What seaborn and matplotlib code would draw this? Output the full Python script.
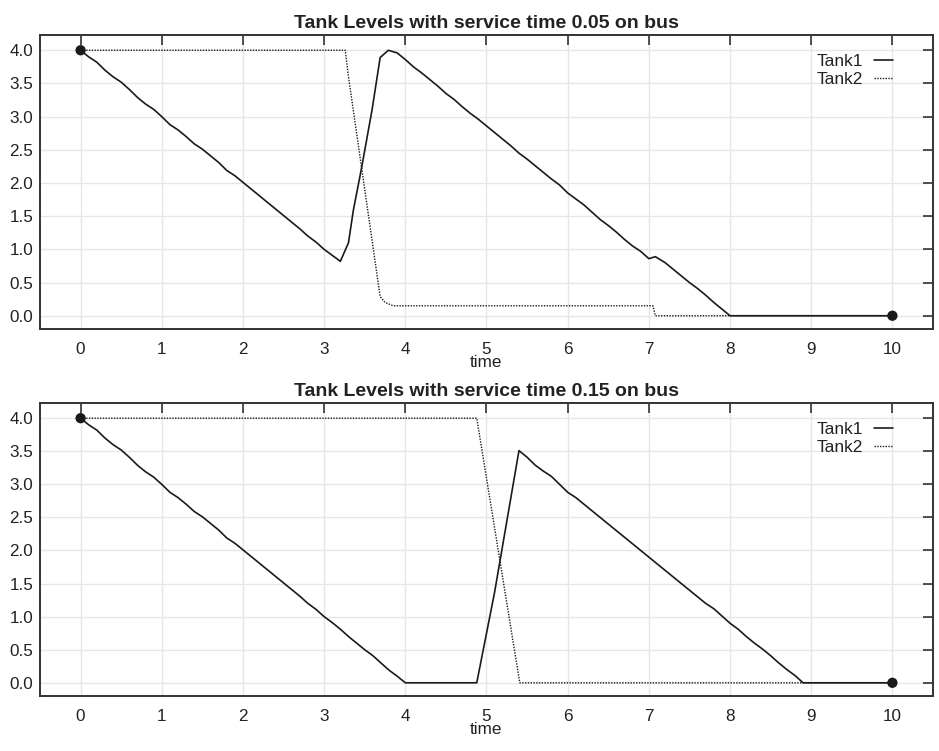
import numpy as np
import pandas as pd
import matplotlib
matplotlib.use("Agg")
import matplotlib.pyplot as plt
import seaborn as sns

# ---------------- data ----------------
# service time 0.05
t1_a = [0.0, 0.1, 0.2, 0.3, 0.4, 0.5, 0.6, 0.7, 0.8, 0.9,
        1.0, 1.1, 1.2, 1.3, 1.4, 1.5, 1.6, 1.7, 1.8, 1.9,
        2.0, 2.1, 2.2, 2.3, 2.4, 2.5, 2.6, 2.7, 2.8, 2.9,
        3.0, 3.1, 3.2, 3.3, 3.36, 3.46, 3.59, 3.69, 3.79, 3.9,
        4.0, 4.1, 4.2, 4.3, 4.4, 4.5, 4.6, 4.7, 4.8, 4.9,
        5.0, 5.1, 5.2, 5.3, 5.4, 5.5, 5.6, 5.7, 5.8, 5.9,
        6.0, 6.1, 6.2, 6.3, 6.4, 6.5, 6.6, 6.7, 6.8, 6.9,
        7.0, 7.08, 7.2, 7.3, 7.4, 7.5, 7.6, 7.7, 7.8, 7.9,
        8.0, 10.0]
tank1_a = [4.00, 3.90, 3.82, 3.70, 3.60, 3.52, 3.41, 3.29, 3.19, 3.11,
           3.00, 2.88, 2.80, 2.70, 2.59, 2.51, 2.41, 2.31, 2.19, 2.11,
           2.01, 1.91, 1.81, 1.71, 1.61, 1.51, 1.41, 1.31, 1.20, 1.11,
           1.00, 0.91, 0.82, 1.10, 1.59, 2.22, 3.10, 3.89, 4.00, 3.96,
           3.86, 3.75, 3.66, 3.56, 3.46, 3.35, 3.26, 3.15, 3.05, 2.96,
           2.86, 2.76, 2.66, 2.56, 2.45, 2.36, 2.26, 2.16, 2.06, 1.97,
           1.85, 1.76, 1.67, 1.56, 1.45, 1.36, 1.26, 1.15, 1.05, 0.97,
           0.86, 0.89, 0.80, 0.70, 0.60, 0.50, 0.41, 0.31, 0.20, 0.10,
           0.00, 0.00]
t2_a = [0.0, 3.26, 3.30, 3.69, 3.75, 3.85, 7.05, 7.08, 10.0]
tank2_a = [4.00, 4.00, 3.60, 0.29, 0.20, 0.15, 0.15, 0.00, 0.00]

# service time 0.15
t1_b = [0.0, 0.1, 0.2, 0.3, 0.4, 0.5, 0.6, 0.7, 0.8, 0.9,
        1.0, 1.1, 1.2, 1.3, 1.4, 1.5, 1.6, 1.7, 1.8, 1.9,
        2.0, 2.1, 2.2, 2.3, 2.4, 2.5, 2.6, 2.7, 2.8, 2.9,
        3.0, 3.1, 3.2, 3.3, 3.4, 3.5, 3.6, 3.7, 3.8, 3.9,
        4.0, 4.88, 5.1, 5.4, 5.5, 5.6, 5.7, 5.8, 5.9,
        6.0, 6.1, 6.2, 6.3, 6.4, 6.5, 6.6, 6.7, 6.8, 6.9,
        7.0, 7.1, 7.2, 7.3, 7.4, 7.5, 7.6, 7.7, 7.8, 7.9,
        8.0, 8.1, 8.2, 8.3, 8.4, 8.5, 8.6, 8.7, 8.8, 8.9, 10.0]
tank1_b = [4.00, 3.90, 3.82, 3.70, 3.60, 3.52, 3.41, 3.29, 3.19, 3.11,
           3.00, 2.88, 2.80, 2.70, 2.59, 2.51, 2.41, 2.31, 2.19, 2.11,
           2.01, 1.91, 1.81, 1.71, 1.61, 1.51, 1.41, 1.31, 1.20, 1.11,
           1.00, 0.91, 0.81, 0.70, 0.60, 0.50, 0.41, 0.30, 0.19, 0.10,
           0.00, 0.00, 1.37, 3.51, 3.41, 3.29, 3.20, 3.12, 3.00,
           2.88, 2.80, 2.70, 2.60, 2.50, 2.40, 2.30, 2.20, 2.10, 2.00,
           1.90, 1.80, 1.70, 1.60, 1.50, 1.40, 1.30, 1.20, 1.12, 1.01,
           0.90, 0.81, 0.70, 0.60, 0.51, 0.41, 0.30, 0.20, 0.11, 0.00, 0.00]
t2_b = [0.0, 4.88, 5.41, 10.0]
tank2_b = [4.00, 4.00, 0.00, 0.00]

titles = ["Tank Levels with service time 0.05 on bus",
          "Tank Levels with service time 0.15 on bus"]
y_ticks = [0.0, 0.5, 1.0, 1.5, 2.0, 2.5, 3.0, 3.5, 4.0]
x_ticks = list(range(0, 11))

# ---------------- styling ----------------
sns.set_theme(style="whitegrid")
plt.rcParams["font.family"] = ["Liberation Sans", "DejaVu Sans"]
plt.rcParams.update({
    "grid.color": "#e6e6e6",
    "grid.linewidth": 1.0,
    "axes.edgecolor": "#333333",
    "axes.linewidth": 1.4,
    "xtick.direction": "in",
    "ytick.direction": "in",
    "xtick.top": True,
    "ytick.right": True,
    "xtick.color": "#333333",
    "ytick.color": "#333333",
    "xtick.labelcolor": "#222222",
    "ytick.labelcolor": "#222222",
})

fig = plt.figure(figsize=(9.39, 7.51), dpi=100)
ax_top = fig.add_axes([0.0426, 0.5619, 0.951, 0.3915])
ax_bot = fig.add_axes([0.0426, 0.0732, 0.951, 0.3902])

panels = [(ax_top, t1_a, tank1_a, t2_a, tank2_a, titles[0]),
          (ax_bot, t1_b, tank1_b, t2_b, tank2_b, titles[1])]

for ax, ta, va, tb, vb, title in panels:
    sns.lineplot(x=ta, y=va, ax=ax, color="#1a1a1a", linewidth=1.2,
                 label="Tank1", estimator=None, sort=False)
    sns.lineplot(x=tb, y=vb, ax=ax, color="#1a1a1a", linewidth=1.0,
                 linestyle=(0, (1, 1)), label="Tank2", estimator=None, sort=False)
    # start / end points
    sns.scatterplot(x=[ta[0], ta[-1]], y=[va[0], va[-1]], ax=ax,
                    color="#1a1a1a", s=55, edgecolor="none", zorder=5)

    ax.set_xlim(-0.5, 10.5)
    ax.set_ylim(-0.2, 4.23)
    ax.set_xticks(x_ticks)
    ax.set_yticks(y_ticks)
    ax.set_yticklabels([f"{v:.1f}" for v in y_ticks])
    ax.tick_params(axis="both", which="major", length=7, width=1.2,
                   labelsize=12.3)
    ax.tick_params(axis="x", pad=9)
    ax.tick_params(axis="y", pad=5)
    ax.set_xlabel("time", fontsize=12.3, labelpad=-1, color="#222222")
    ax.set_ylabel("")
    ax.set_title(title, fontsize=14, fontweight="bold", pad=5, color="#222222")
    for sp in ax.spines.values():
        sp.set_visible(True)
        sp.set_color("#333333")
        sp.set_linewidth(1.4)

    leg = ax.legend(loc="upper right", bbox_to_anchor=(0.955, 0.935),
                    frameon=False, markerfirst=False, handlelength=1.1,
                    handletextpad=0.6, labelspacing=0.15, borderpad=0,
                    borderaxespad=0, fontsize=12.6)
    for txt in leg.get_texts():
        txt.set_color("#222222")

fig.savefig("out.png", dpi=100)
